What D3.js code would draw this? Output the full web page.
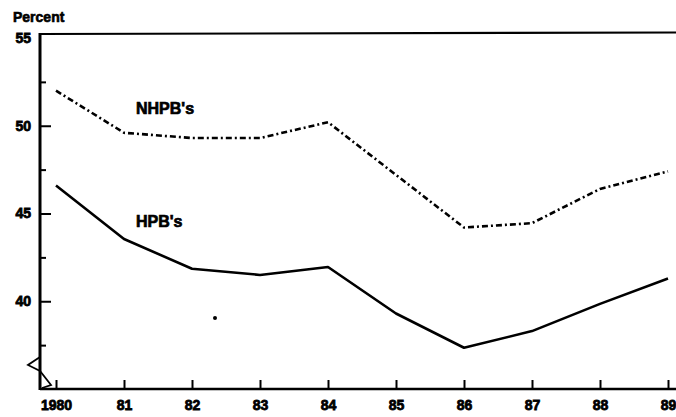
<!DOCTYPE html>
<html>
<head>
<meta charset="utf-8">
<script src="https://cdn.jsdelivr.net/npm/d3@7"></script>
<style>
  body { margin: 0; background: #fff; }
  text { font-family: "Liberation Sans", Arial, sans-serif; font-weight: bold; fill: #000; }
  .axis text { font-family: "Liberation Sans", Arial, sans-serif; font-weight: bold; font-size: 14px; stroke: #000; stroke-width: 0.8px; }
  .axis line { stroke: #000; stroke-width: 2px; }
  .axis .domain { stroke: #000; stroke-width: 2.5px; }
</style>
</head>
<body>
<div id="chart"></div>
<script>
// values
var years = [1980, 1981, 1982, 1983, 1984, 1985, 1986, 1987, 1988, 1989];
var yearLabels = ["1980", "81", "82", "83", "84", "85", "86", "87", "88", "89"];
var nhpb = [52.0, 49.6, 49.3, 49.3, 50.2, 47.2, 44.2, 44.45, 46.4, 47.4];
var hpb = [46.6, 43.55, 41.85, 41.5, 41.95, 39.3, 37.35, 38.3, 39.85, 41.3];
var yLabelTicks = [40, 45, 50, 55];
var yMinorTicks = [37.5, 42.5, 47.5, 52.5];

var W = 676, H = 417;
var plotLeft = 40, plotTop = 34, plotRight = 676, plotBottom = 389;

var svg = d3.select("#chart").append("svg")
    .attr("width", W)
    .attr("height", H);

var x = d3.scaleLinear().domain([1980, 1989]).range([56, 668]);
var y = d3.scaleLinear().domain([35, 55]).range([plotBottom, 38]);

// top line of the frame
svg.append("path")
    .attr("d", "M" + plotLeft + "," + plotTop + "L" + plotRight + "," + (plotTop - 1.5))
    .attr("fill", "none").attr("stroke", "#000").attr("stroke-width", 2.2);

// left axis line as a solid bar
svg.append("rect")
    .attr("x", plotLeft - 1.5).attr("y", plotTop - 1)
    .attr("width", 3).attr("height", plotBottom - plotTop + 2)
    .attr("fill", "#000");

// left axis: major ticks with labels, minor ticks without
var yAxis = svg.append("g").attr("class", "axis")
    .attr("transform", "translate(" + plotLeft + ",0)")
    .call(d3.axisLeft(y).tickValues(yLabelTicks).tickSizeInner(-11).tickSizeOuter(0).tickPadding(9));
yAxis.select(".domain").remove();
yAxis.selectAll(".tick").filter(function(d) { return d === 55; }).select("line").remove();

svg.append("g").attr("class", "axis")
    .attr("transform", "translate(" + plotLeft + ",0)")
    .call(d3.axisLeft(y).tickValues(yMinorTicks).tickSizeInner(-6).tickSizeOuter(0).tickFormat(""))
    .select(".domain").remove();

// bottom axis
var xAxis = svg.append("g").attr("class", "axis")
    .attr("transform", "translate(0," + plotBottom + ")")
    .call(d3.axisBottom(x).tickValues(years).tickSizeInner(-9).tickSizeOuter(0).tickPadding(11)
        .tickFormat(function(d, i) { return yearLabels[i]; }));
xAxis.select(".domain").attr("d", "M" + plotLeft + ",0H" + plotRight);

// axis break
svg.append("path")
    .attr("d", "M40,357 L28,365 L40,371 L51,385 L42,388")
    .attr("fill", "none").attr("stroke", "#000").attr("stroke-width", 1.8);

svg.append("text").attr("x", 13).attr("y", 22)
    .style("font-size", "14px")
    .attr("stroke", "#000").attr("stroke-width", 0.6)
    .text("Percent");

var line = d3.line()
    .x(function(d, i) { return x(years[i]); })
    .y(function(d) { return y(d); });

svg.append("path").datum(nhpb)
    .attr("d", line)
    .attr("fill", "none").attr("stroke", "#000").attr("stroke-width", 2.6)
    .attr("stroke-dasharray", "6,3,2,3");
svg.append("path").datum(hpb)
    .attr("d", line)
    .attr("fill", "none").attr("stroke", "#000").attr("stroke-width", 2.6)
    .attr("stroke-linejoin", "round");

// series labels
svg.append("text").attr("x", 136).attr("y", 114)
    .style("font-size", "16px")
    .attr("stroke", "#000").attr("stroke-width", 0.7)
    .text("NHPB's");
svg.append("text").attr("x", 136).attr("y", 227)
    .style("font-size", "16px")
    .attr("stroke", "#000").attr("stroke-width", 0.7)
    .text("HPB's");

// stray dot in the scan
svg.append("circle").attr("cx", 215).attr("cy", 318).attr("r", 2).attr("fill", "#000");
</script>
</body>
</html>
